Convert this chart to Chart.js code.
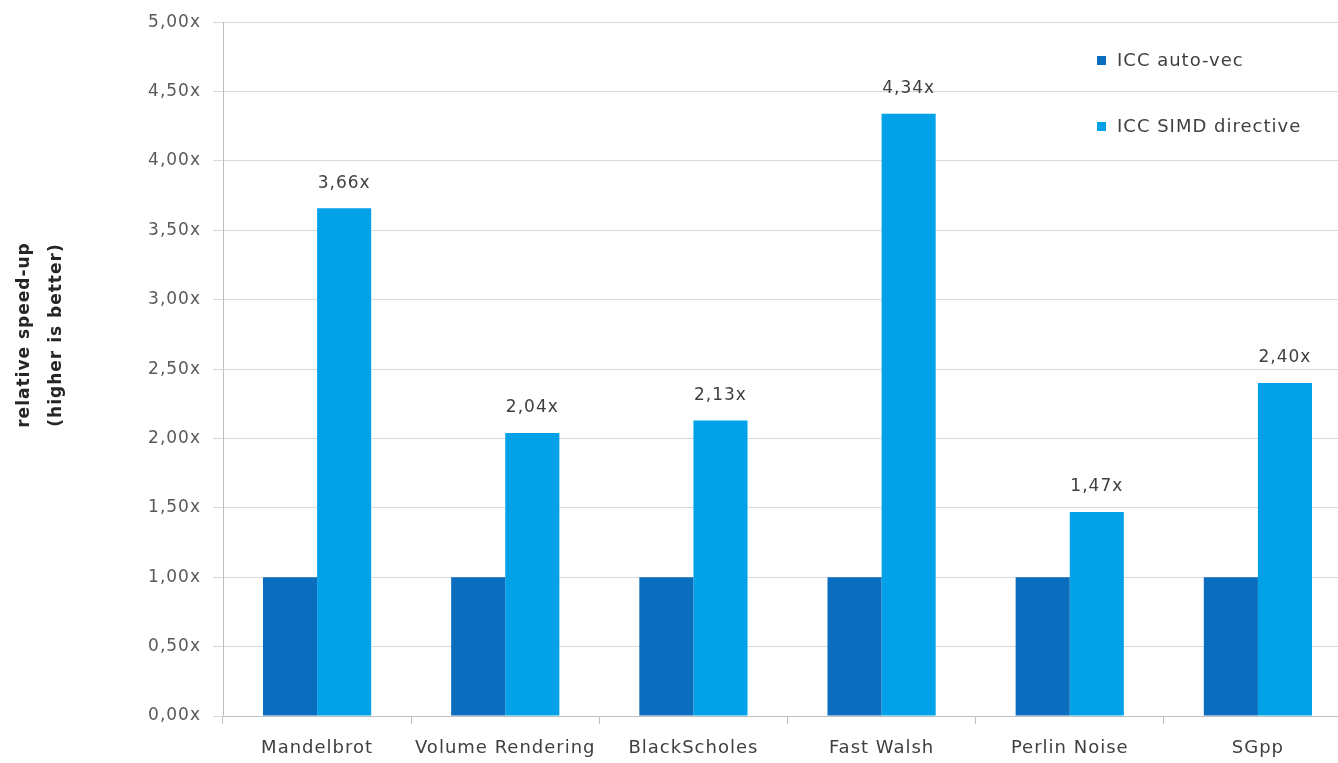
<!DOCTYPE html>
<html>
<head>
<meta charset="utf-8">
<script src="https://cdn.jsdelivr.net/npm/chart.js@4/dist/chart.umd.min.js"></script>
<style>
  html, body { margin: 0; padding: 0; background: #fff; overflow: hidden; }
  #wrap { width: 1352px; height: 763px; position: relative; }
</style>
</head>
<body>
<div id="wrap"><canvas id="chart"></canvas></div>
<script>
const categories = ['Mandelbrot', 'Volume Rendering', 'BlackScholes', 'Fast Walsh', 'Perlin Noise', 'SGpp'];
const autoVec = [1, 1, 1, 1, 1, 1];
const simdDirective = [3.66, 2.04, 2.13, 4.34, 1.47, 2.40];
const seriesNames = ['ICC auto-vec', 'ICC SIMD directive'];
const yTitle = ['relative speed-up', '(higher is better)'];

const FONT = '"DejaVu Sans", sans-serif';
const fmt = v => v.toFixed(2).replace('.', ',') + 'x';

// the source text is a bit wider than DejaVu, so open it up slightly
const spacing = {
    id: 'spacing',
    beforeDraw(chart) { chart.ctx.letterSpacing = '1px'; }
};

// value labels above the SIMD bars
const valueLabels = {
    id: 'valueLabels',
    afterDatasetsDraw(chart) {
        const ctx = chart.ctx;
        const meta = chart.getDatasetMeta(1);
        ctx.save();
        ctx.font = '17px ' + FONT;
        ctx.fillStyle = '#404040';
        ctx.textAlign = 'center';
        ctx.textBaseline = 'middle';
        meta.data.forEach((bar, i) => {
            ctx.fillText(fmt(simdDirective[i]), bar.x, bar.y - 25);
        });
        ctx.restore();
    }
};

// legend inside the plot, top right
const innerLegend = {
    id: 'innerLegend',
    afterDraw(chart) {
        const ctx = chart.ctx;
        const rows = [61, 127];
        ctx.save();
        ctx.font = '18px ' + FONT;
        ctx.textBaseline = 'middle';
        chart.data.datasets.forEach((ds, i) => {
            ctx.fillStyle = ds.backgroundColor;
            ctx.fillRect(1097, rows[i] - 5, 9, 9);
            ctx.fillStyle = '#404040';
            ctx.fillText(ds.label, 1117, rows[i]);
        });
        ctx.restore();
    }
};

// rotated two-line y axis title
const axisTitle = {
    id: 'axisTitle',
    afterDraw(chart) {
        const ctx = chart.ctx;
        ctx.save();
        ctx.font = 'bold 17px ' + FONT;
        ctx.fillStyle = '#262626';
        ctx.textAlign = 'center';
        ctx.textBaseline = 'middle';
        [25, 57].forEach((x, i) => {
            ctx.save();
            ctx.translate(x, 335);
            ctx.rotate(-Math.PI / 2);
            ctx.fillText(yTitle[i], 0, 0);
            ctx.restore();
        });
        ctx.restore();
    }
};

new Chart(document.getElementById('chart'), {
    type: 'bar',
    data: {
        labels: categories,
        datasets: [
            { label: seriesNames[0], data: autoVec, backgroundColor: '#0b6dbd' },
            { label: seriesNames[1], data: simdDirective, backgroundColor: '#03a2e8' }
        ]
    },
    options: {
        responsive: true,
        maintainAspectRatio: false,
        animation: false,
        layout: { padding: { top: 21, right: 0, left: 0, bottom: 0 } },
        datasets: { bar: { categoryPercentage: 0.575, barPercentage: 1.0 } },
        plugins: {
            legend: { display: false },
            tooltip: { enabled: false }
        },
        scales: {
            x: {
                afterFit(scale) { scale.height = 47; },
                grid: {
                    offset: true,
                    drawOnChartArea: false,
                    tickLength: 8,
                    color: '#bfbfbf'
                },
                border: { color: '#bfbfbf' },
                ticks: {
                    font: { family: FONT, size: 18 },
                    color: '#404040',
                    padding: 14,
                    maxRotation: 0
                }
            },
            y: {
                min: 0,
                max: 5,
                afterFit(scale) { scale.width = 223; },
                grid: { color: '#d9d9d9', tickLength: 10 },
                border: { color: '#bfbfbf' },
                ticks: {
                    stepSize: 0.5,
                    font: { family: FONT, size: 17 },
                    color: '#595959',
                    padding: 12,
                    callback: v => fmt(v)
                }
            }
        }
    },
    plugins: [spacing, valueLabels, innerLegend, axisTitle]
});
</script>
</body>
</html>
